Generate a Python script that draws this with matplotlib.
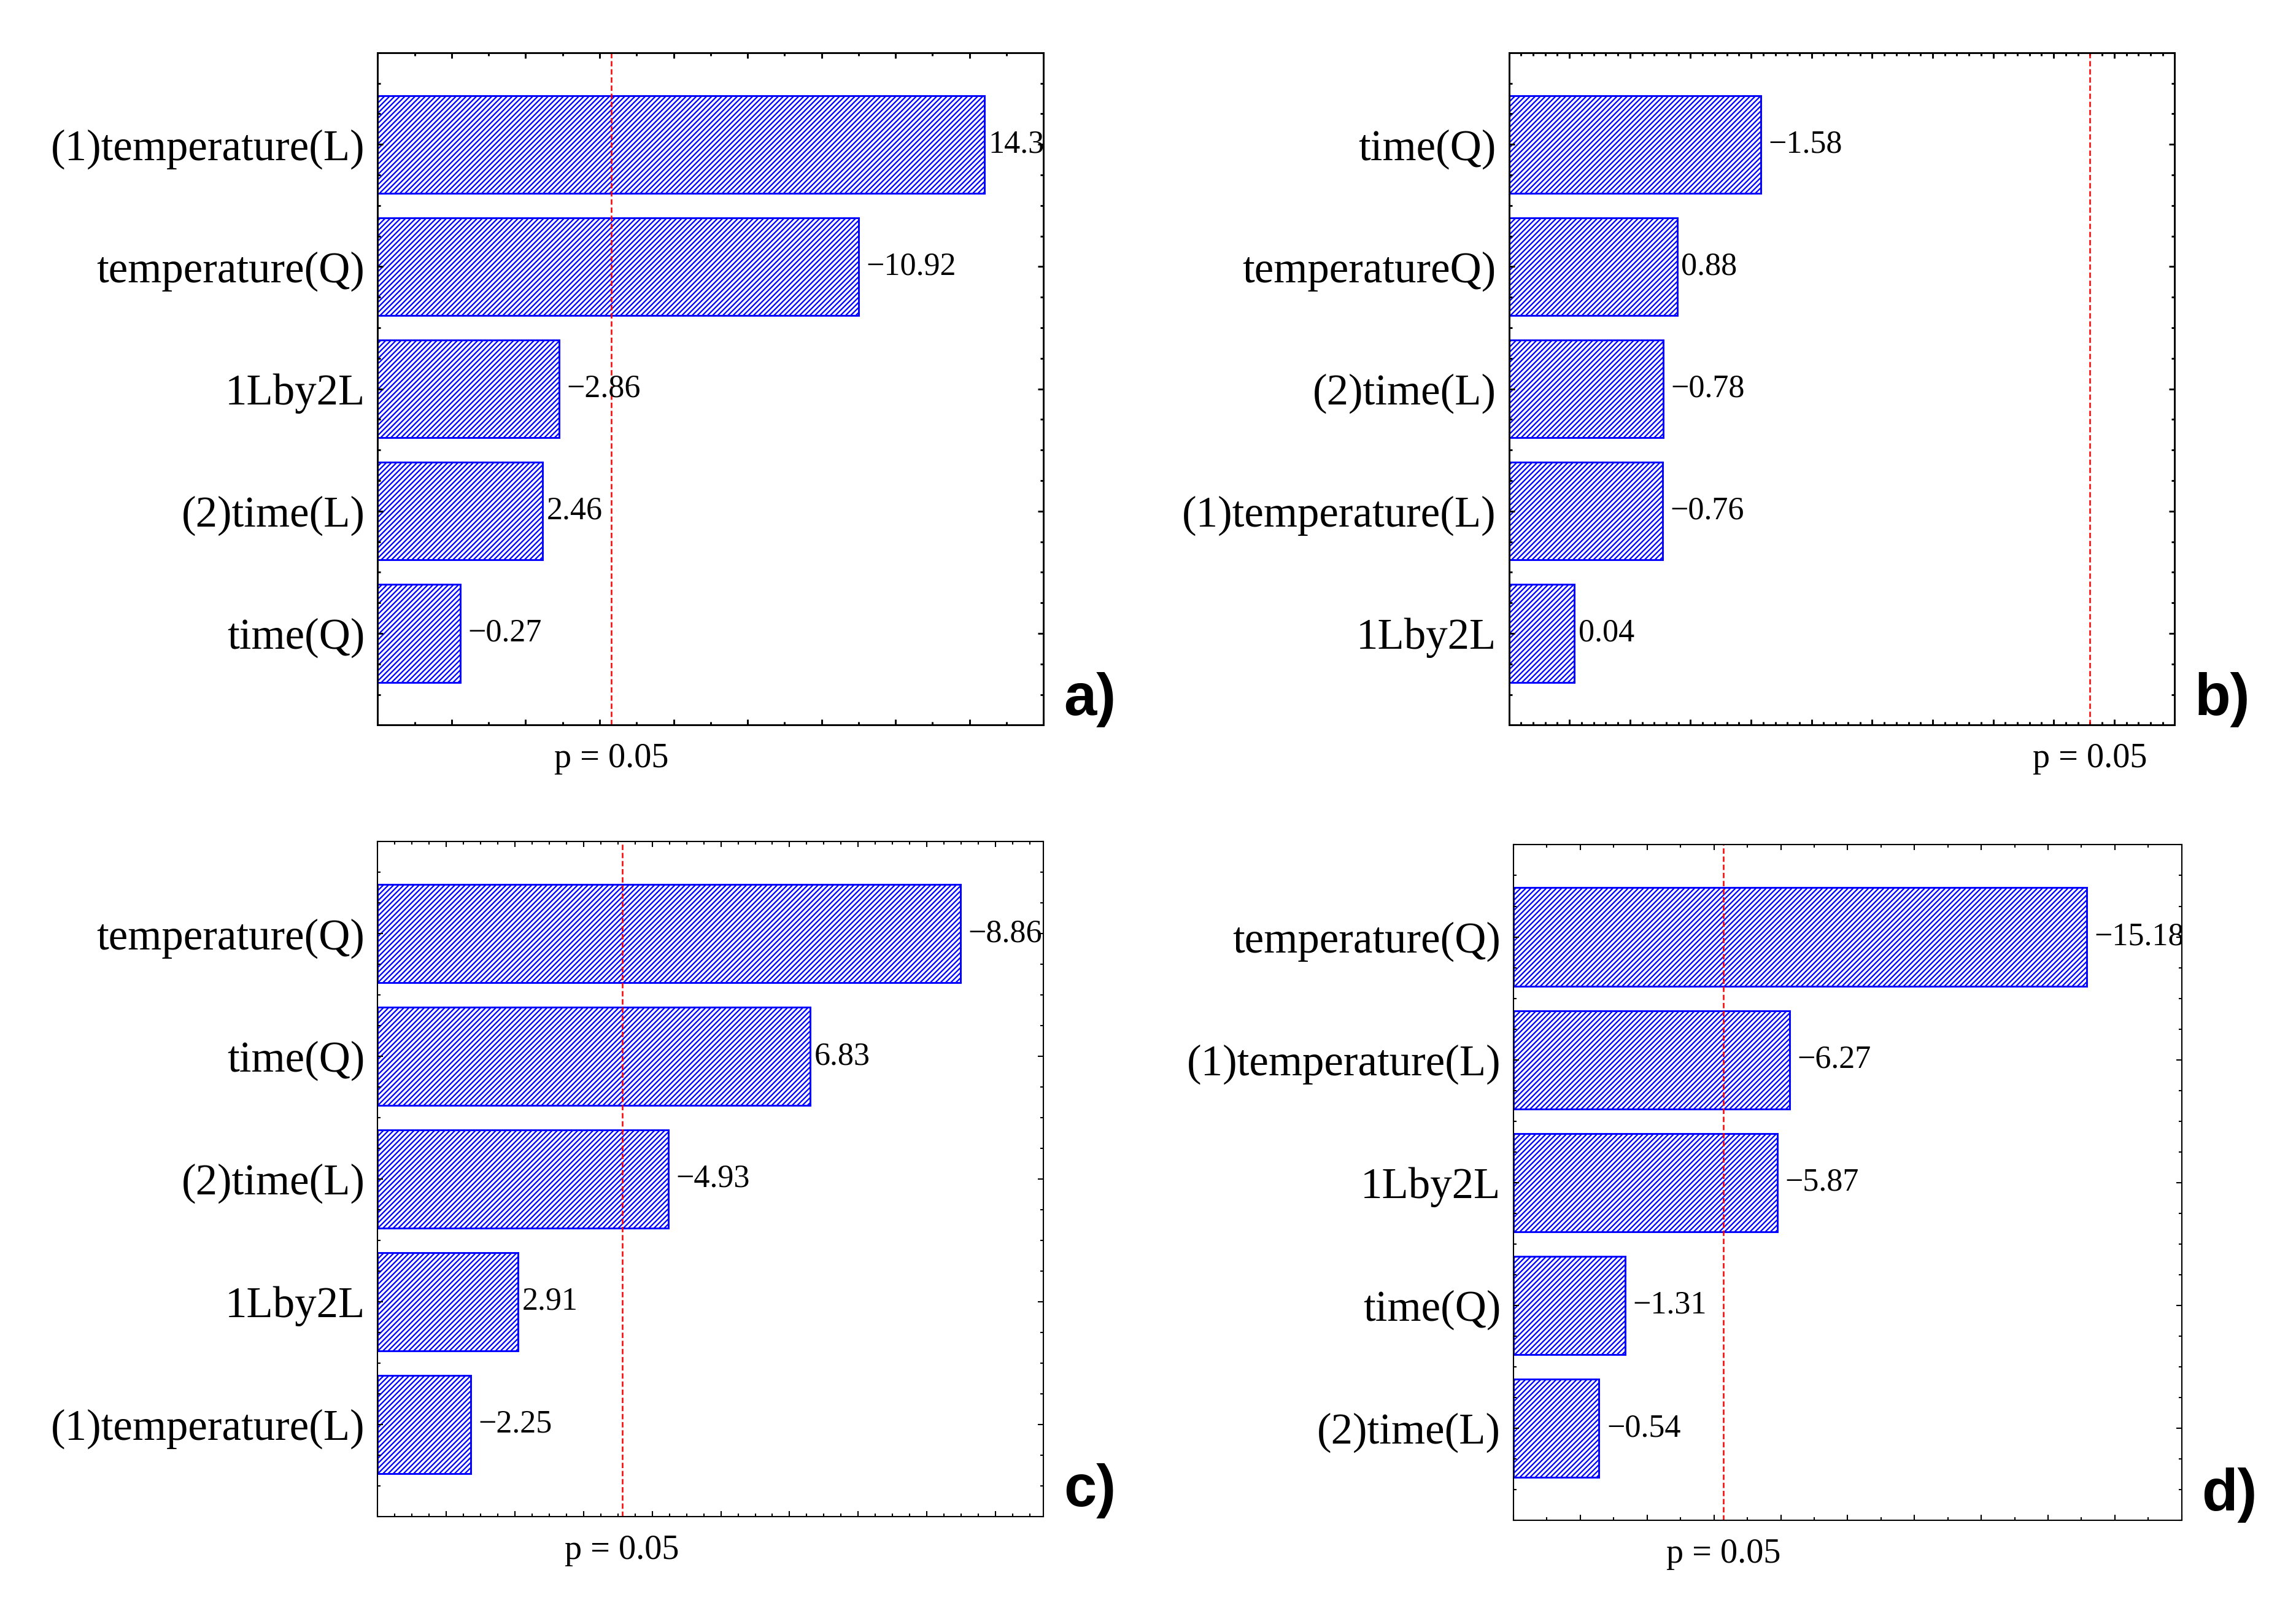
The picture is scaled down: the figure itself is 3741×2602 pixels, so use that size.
import numpy as np
import matplotlib
matplotlib.use("Agg")
import matplotlib.pyplot as plt
from matplotlib.ticker import MultipleLocator
from matplotlib.transforms import blended_transform_factory, ScaledTranslation

plt.rcParams['font.family'] = ['Liberation Serif', 'DejaVu Serif']
plt.rcParams['hatch.linewidth'] = 0.55

# bar lengths are read off the (unlabelled) effect axis, values are the printed estimates
labels_a = ["(1)temperature(L)", "temperature(Q)", "1Lby2L", "(2)time(L)", "time(Q)"]
lengths_a = [16.4, 13.0, 4.9, 4.46, 2.23]
values_a = [14.36, -10.92, -2.86, 2.46, -0.27]
pline_a = 6.32

labels_b = ["time(Q)", "temperatureQ)", "(2)time(L)", "(1)temperature(L)", "1Lby2L"]
lengths_b = [20.8, 13.9, 12.75, 12.7, 5.42]
values_b = [-1.58, 0.88, -0.78, -0.76, 0.04]
pline_b = 48.0

labels_c = ["temperature(Q)", "time(Q)", "(2)time(L)", "1Lby2L", "(1)temperature(L)"]
lengths_c = [33.95, 25.2, 16.95, 8.19, 5.43]
values_c = [-8.86, 6.83, -4.93, 2.91, -2.25]
pline_c = 14.24

labels_d = ["temperature(Q)", "(1)temperature(L)", "1Lby2L", "time(Q)", "(2)time(L)"]
lengths_d = [17.16, 8.26, 7.9, 3.34, 2.56]
values_d = [-15.18, -6.27, -5.87, -1.31, -0.54]
pline_d = 6.28


def fmt(v):
    return f"{v:.2f}".replace("-", "\u2212")


def draw_panel(fig, rect, labels, lengths, values, pline, xmax, minor, major, tag, lw):
    ax = fig.add_axes(rect)
    y = np.arange(len(labels))
    ax.barh(y, lengths, height=0.8, color='white', edgecolor='#0000ff',
            hatch='/' * 12, linewidth=0.7)
    ax.set_xlim(0, xmax)
    ax.set_ylim(len(labels) - 0.25, -0.75)
    ax.set_yticks(y)
    ax.set_yticklabels(labels, fontsize=17)
    ax.yaxis.set_minor_locator(MultipleLocator(0.25))
    ax.xaxis.set_major_locator(MultipleLocator(major))
    ax.xaxis.set_minor_locator(MultipleLocator(minor))
    ax.tick_params(which='both', direction='in', top=True, right=True,
                   labelbottom=False, width=lw)
    ax.tick_params(which='major', length=2.2)
    ax.tick_params(which='minor', length=1.3)
    ax.tick_params(axis='y', pad=5)
    for s in ax.spines.values():
        s.set_linewidth(lw)

    for yi, L, v in zip(y, lengths, values):
        # negative labels sit a little further out, as in the original
        off = 3.0 if v < 0 else 1.5
        shift = ax.transData + ScaledTranslation(off / 72, 0, fig.dpi_scale_trans)
        ax.text(L, yi, fmt(v), transform=shift, ha='left', va='center',
                fontsize=12.5, clip_on=True)

    ax.axvline(pline, color='red', linestyle=(0, (3.5, 1.8)), linewidth=0.6)
    trans = blended_transform_factory(ax.transData, ax.transAxes)
    ax.text(pline, -0.05, "p = 0.05", transform=trans, ha='center', va='center',
            fontsize=13.5)
    ax.text(1.03, 0.015, tag, transform=ax.transAxes, ha='left', va='baseline',
            fontsize=23, fontweight='bold', family='Liberation Sans')
    return ax


fig = plt.figure(figsize=(3741 / 300, 2602 / 300), dpi=300)

draw_panel(fig, [0.1645, 0.5460, 0.2900, 0.4210], labels_a, lengths_a, values_a,
           pline_a, 18, 1, 2, "a)", 0.7)
draw_panel(fig, [0.6572, 0.5460, 0.2900, 0.4210], labels_b, lengths_b, values_b,
           pline_b, 55, 1, 5, "b)", 0.7)
draw_panel(fig, [0.1645, 0.0505, 0.2900, 0.4225], labels_c, lengths_c, values_c,
           pline_c, 38.8, 1, 4, "c)", 0.5)
draw_panel(fig, [0.6592, 0.0480, 0.2910, 0.4230], labels_d, lengths_d, values_d,
           pline_d, 20, 1, 2, "d)", 0.5)

fig.savefig("out.png", dpi=300, facecolor='white')
